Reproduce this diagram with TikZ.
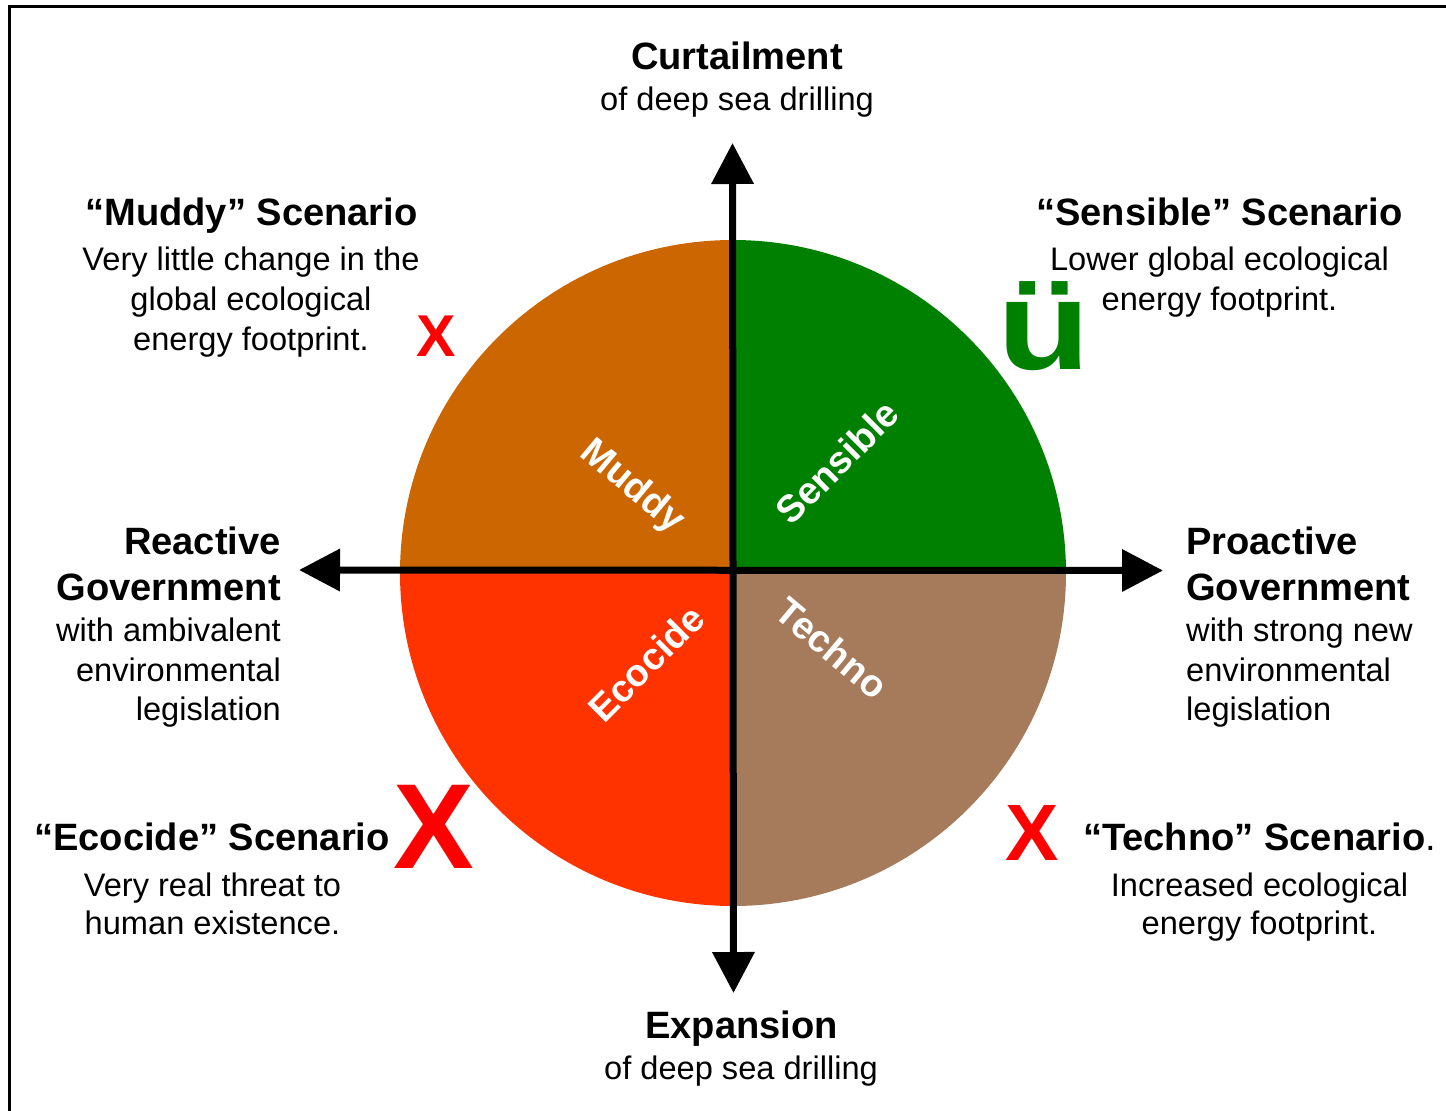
\documentclass[tikz,border=0pt]{standalone}
\usepackage{fontspec}
\setmainfont{Liberation Sans}
\usetikzlibrary{arrows.meta}
\definecolor{muddy}{HTML}{CC6600}
\definecolor{sensible}{HTML}{008000}
\definecolor{ecocide}{HTML}{FF3300}
\definecolor{techno}{HTML}{A67B5B}
\definecolor{xred}{HTML}{FF0000}
\begin{document}
\begin{tikzpicture}[x=1pt,y=-1pt,
  head/.style={font=\fontsize{38.1}{45}\selectfont\bfseries, inner sep=0pt, anchor=base},
  body/.style={font=\fontsize{32.6}{40}\selectfont, inner sep=0pt, anchor=base},
  quad/.style={font=\fontsize{38}{42}\selectfont\bfseries, text=white, inner sep=0pt},
  xmk/.style={text=xred, inner sep=0pt, anchor=base},
  axis/.style={line width=7pt, {Triangle[length=41pt,width=41pt]}-{Triangle[length=41pt,width=41pt]}}]
\useasboundingbox (0,0) rectangle (1446,1111);
\fill[white] (0,0) rectangle (1446,1111);
\draw[line width=3pt] (9.5,6) rectangle (1470,1130);
% quadrants
\coordinate (C) at (733,573);
\begin{scope}\clip (732.5,570) rectangle (380,220); \fill[muddy] (C) circle[radius=333pt]; \end{scope}
\begin{scope}\clip (732.5,570) rectangle (1090,220); \fill[sensible] (C) circle[radius=333pt]; \end{scope}
\begin{scope}\clip (732.5,570) rectangle (380,930); \fill[ecocide] (C) circle[radius=333pt]; \end{scope}
\begin{scope}\clip (732.5,570) rectangle (1090,930); \fill[techno] (C) circle[radius=333pt]; \end{scope}
% axes
\coordinate (T) at (732.5,143);
\coordinate (B) at (733.5,993);
\coordinate (L) at (299,570);
\coordinate (R) at (1163,570.5);
\draw[axis] (B) -- (T);
\draw[axis] (L) -- (R);
% quadrant labels
\node[quad, rotate=-40] (lm) at (632,487) {Muddy};
\node[quad, rotate=45] (ls) at (837,462) {Sensible};
\node[quad, rotate=45] (le) at (646,663) {Ecocide};
\node[quad, rotate=-40] (lt) at (832,648) {Techno};
% top / bottom
\node[head] (curt) at (737,69.5) {Curtailment};
\node[body] (curt2) at (737,110) {of deep sea drilling};
\node[head] (exp) at (741.5,1038) {Expansion};
\node[body] (exp2) at (741,1079) {of deep sea drilling};
% Muddy
\node[head] (mh) at (251.5,225.5) {“Muddy” Scenario};
\node[body] (m1) at (251,270) {Very little change in the};
\node[body] (m2) at (251,310) {global ecological};
\node[body] (m3) at (251,350) {energy footprint.};
\node[xmk, font=\fontsize{59}{59}\selectfont\bfseries] (mx) at (436,356) {X};
% Sensible
\node[head] (sh) at (1219.5,225.5) {“Sensible” Scenario};
\node[body] (s1) at (1219.5,270) {Lower global ecological};
\node[body] (s2) at (1219.5,310) {energy footprint.};
\node[anchor=base, text=sensible, inner sep=0pt, font=\fontsize{127}{127}\selectfont\bfseries, xscale=1.2] (tick) at (1044.5,369) {ü};
% Reactive
\node[head, anchor=base east] (rh1) at (281,554) {Reactive};
\node[head, anchor=base east] (rh2) at (281,600) {Government};
\node[body, anchor=base east] (r1) at (281,641) {with ambivalent};
\node[body, anchor=base east] (r2) at (281,681) {environmental};
\node[body, anchor=base east] (r3) at (281,720) {legislation};
% Proactive
\node[head, anchor=base west] (ph1) at (1186,554) {Proactive};
\node[head, anchor=base west] (ph2) at (1186,600) {Government};
\node[body, anchor=base west] (p1) at (1186,641) {with strong new};
\node[body, anchor=base west] (p2) at (1186,681) {environmental};
\node[body, anchor=base west] (p3) at (1186,720) {legislation};
% Ecocide
\node[head] (eh) at (212,850) {“Ecocide” Scenario};
\node[body] (e1) at (212.5,896) {Very real threat to};
\node[body] (e2) at (212.5,934) {human existence.};
\node[xmk, font=\fontsize{121}{121}\selectfont\bfseries] (ex) at (434,868) {X};
% Techno
\node[head] (th) at (1259.5,850) {“Techno” Scenario\mdseries.};
\node[body] (t1) at (1259.5,896) {Increased ecological};
\node[body] (t2) at (1259.5,934) {energy footprint.};
\node[xmk, font=\fontsize{80}{80}\selectfont\bfseries] (tx) at (1032,860) {X};
\end{tikzpicture}
\end{document}
